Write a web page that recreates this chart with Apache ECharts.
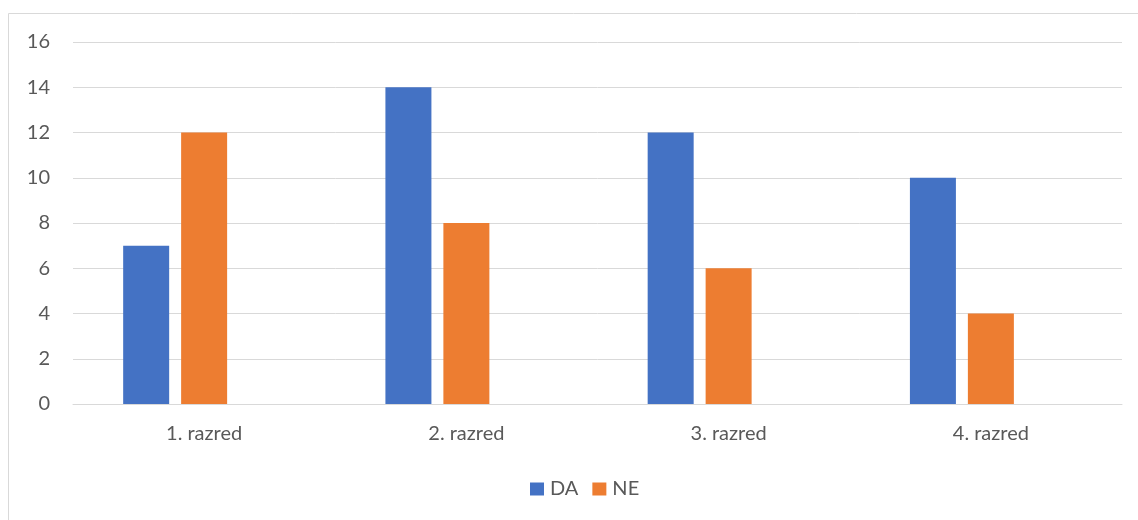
<!DOCTYPE html>
<html>
<head>
<meta charset="utf-8">
<script src="https://cdn.jsdelivr.net/npm/echarts@6/dist/echarts.min.js"></script>
<style>
html,body{margin:0;padding:0;background:#fff;}
#chart{width:1138px;height:520px;}
</style>
</head>
<body>
<div id="chart"></div>
<script>
const categories = ['1. razred', '2. razred', '3. razred', '4. razred'];
const daValues = [7, 14, 12, 10];
const neValues = [12, 8, 6, 4];
const emptyValues = [null, null, null, null];
const yTicks = { min: 0, max: 16, interval: 2 };

const FONT = 'Lato, "Open Sans", sans-serif';
const chart = echarts.init(document.getElementById('chart'));
chart.setOption({
  animation: false,
  backgroundColor: '#fff',
  textStyle: { fontFamily: FONT },
  graphic: [{
    type: 'rect',
    shape: { x: 8.5, y: 13.5, width: 1140, height: 520 },
    style: { fill: 'none', stroke: '#d9d9d9', lineWidth: 1 },
    silent: true
  }],
  grid: { left: 73, right: 16, top: 42, bottom: 116, containLabel: false },
  legend: {
    data: ['DA', 'NE'],
    bottom: 16,
    left: 525,
    itemWidth: 14,
    itemHeight: 13,
    itemGap: 14,
    icon: 'rect',
    textStyle: { color: '#595959', fontSize: 20, fontFamily: FONT, padding: [0, 0, 0, 1] }
  },
  xAxis: {
    type: 'category',
    data: categories,
    axisLine: { show: true, lineStyle: { color: '#d9d9d9', width: 1 } },
    axisTick: { show: false },
    axisLabel: { color: '#595959', fontSize: 20, fontFamily: FONT, margin: 20 }
  },
  yAxis: {
    type: 'value',
    min: yTicks.min, max: yTicks.max, interval: yTicks.interval,
    axisLine: { show: false },
    axisTick: { show: false },
    splitLine: { lineStyle: { color: '#d9d9d9', width: 1 } },
    axisLabel: { color: '#595959', fontSize: 20, fontFamily: FONT, margin: 23 }
  },
  series: [
    { name: 'DA', type: 'bar', data: daValues, barWidth: 46, barGap: '26%', itemStyle: { color: '#4472C4' } },
    { name: 'NE', type: 'bar', data: neValues, barWidth: 46, barGap: '26%', itemStyle: { color: '#ED7D31' } },
    { name: '', type: 'bar', data: emptyValues, barWidth: 46, barGap: '26%', itemStyle: { color: '#A5A5A5' } }
  ]
});
</script>
</body>
</html>
